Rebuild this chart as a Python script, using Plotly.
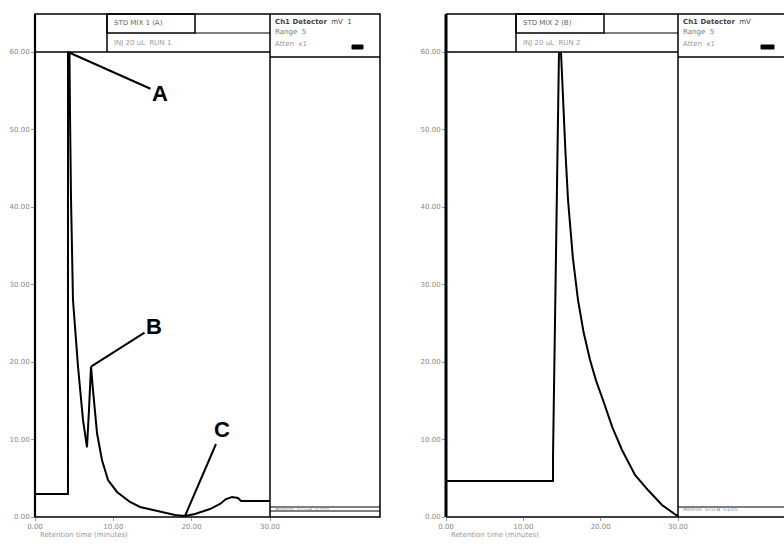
import plotly.graph_objects as go

# ---- data ----
left_time = [0, 4.21, 4.21, 4.40, 4.47, 4.60, 4.85, 5.49, 6.13, 6.64, 6.89, 7.15, 7.40, 7.92,
             8.55, 9.32, 10.47, 12.13, 13.40, 15.96, 17.87, 19.15, 20.43, 22.34, 23.62,
             24.38, 25.15, 25.91, 26.30, 30.0]
left_signal = [2.97, 2.97, 60.0, 60.0, 51.9, 40.9, 28.0, 19.4, 12.5, 9.0, 13.8, 19.4, 16.4, 10.8,
               7.35, 4.77, 3.23, 1.94, 1.29, 0.65, 0.26, 0.13, 0.39, 1.03, 1.68,
               2.32, 2.58, 2.45, 2.06, 2.06]
right_time = [0, 13.84, 13.84, 14.61, 14.87, 15.13, 15.45, 15.78, 16.40, 17.07, 17.80, 18.62,
              19.40, 20.30, 21.50, 22.76, 24.44, 26.12, 27.93, 29.74, 30.0]
right_signal = [4.65, 4.65, 8.0, 60.0, 60.0, 53.8, 47.0, 40.9, 33.5, 28.0, 23.8, 20.3,
                17.6, 15.1, 11.6, 8.65, 5.42, 3.48, 1.55, 0.26, 0.13]
x_ticks = [0, 10, 20, 30]
x_tick_labels = ["0.00", "10.00", "20.00", "30.00"]
y_ticks = [0, 10, 20, 30, 40, 50, 60]
y_tick_labels = ["0.00", "10.00", "20.00", "30.00", "40.00", "50.00", "60.00"]
peak_labels = ["A", "B", "C"]
peak_index = [2, 11, 21]

W, H = 784, 544
def px(x): return x / W
def py(y): return 1 - y / H

fig = go.Figure()
fig.add_trace(go.Scatter(x=left_time, y=left_signal, mode="lines",
                         line=dict(color="black", width=2), xaxis="x", yaxis="y", showlegend=False))
fig.add_trace(go.Scatter(x=right_time, y=right_signal, mode="lines",
                         line=dict(color="black", width=2),
                         xaxis="x2", yaxis="y2", showlegend=False))

axis_common = dict(showgrid=False, zeroline=False, showline=False, ticks="outside", ticklen=3,
                   automargin=False, tickcolor="#999",
                   tickfont=dict(size=7, color="#888", family="DejaVu Sans"))
fig.update_layout(
    width=W, height=H, margin=dict(l=0, r=0, t=0, b=0, autoexpand=False),
    paper_bgcolor="white", plot_bgcolor="white",
    xaxis=dict(domain=[px(35), px(270)], range=[0, 30], tickvals=x_ticks, ticktext=x_tick_labels,
               anchor="y", **axis_common),
    yaxis=dict(domain=[py(517), py(52)], range=[0, 60], tickvals=y_ticks, ticktext=y_tick_labels,
               anchor="x", **axis_common),
    xaxis2=dict(domain=[px(446), px(678)], range=[0, 30], tickvals=x_ticks, ticktext=x_tick_labels,
                anchor="y2", **axis_common),
    yaxis2=dict(domain=[py(517), py(52)], range=[0, 60], tickvals=y_ticks, ticktext=y_tick_labels,
                anchor="x2", **axis_common),
)

shapes = []
def line(x0, y0, x1, y1, w=1.5, c="black"):
    shapes.append(dict(type="line", xref="paper", yref="paper", x0=px(x0), y0=py(y0),
                       x1=px(x1), y1=py(y1), line=dict(color=c, width=w)))
def rect(x0, y0, x1, y1, w=1.5, fill=None):
    shapes.append(dict(type="rect", xref="paper", yref="paper", x0=px(x0), y0=py(y0),
                       x1=px(x1), y1=py(y1), line=dict(color="black", width=w),
                       fillcolor=fill if fill else "rgba(0,0,0,0)"))

# left panel frame
rect(35, 14, 380, 517)
line(35, 14, 35, 517, 2.2)
line(270, 14, 270, 517)
line(35, 52, 270, 52)
line(107, 14, 107, 52)
rect(107, 14, 195, 33)
line(195, 33, 270, 33, 1)
line(270, 57, 380, 57)
line(270, 507, 380, 507, 1)
line(270, 511, 380, 511, 1)
rect(352, 45, 363, 49, 1, "black")

# right panel frame
line(446, 14, 790, 14)
line(446, 517, 790, 517)
line(446, 14, 446, 517, 3)
line(678, 14, 678, 517)
line(446, 52, 678, 52)
line(516, 14, 516, 52)
rect(516, 14, 604, 33)
line(604, 33, 678, 33, 1)
line(678, 57, 790, 57)
line(678, 507, 790, 507, 1)
rect(761, 45, 774, 49, 1, "black")

fig.update_layout(shapes=shapes)

ann = []
def text(x, y, s, size=7, color="#666", anchor="left"):
    ann.append(dict(x=px(x), y=py(y), xref="paper", yref="paper", text=s, showarrow=False,
                    xanchor=anchor, yanchor="middle", font=dict(size=size, color=color,
                    family="DejaVu Sans")))

text(112, 23, "STD MIX 1 (A)")
text(112, 43, "INJ 20 uL  RUN 1", color="#999")
text(273, 22, "<b>Ch1 Detector</b>  mV  1", color="#444")
text(273, 32, "Range  5", color="#777")
text(273, 44, "Atten  x1", color="#999")
text(273, 509, "Method  STD-A  01/05", size=5, color="#888")
text(38, 535, "Retention time (minutes)", color="#999")

text(521, 23, "STD MIX 2 (B)")
text(521, 43, "INJ 20 uL  RUN 2", color="#999")
text(681, 22, "<b>Ch1 Detector</b>  mV", color="#444")
text(681, 32, "Range  5", color="#777")
text(681, 44, "Atten  x1", color="#999")
text(681, 509, "Method  STD-B  01/05", size=5, color="#888")
text(449, 535, "Retention time (minutes)", color="#999")

offsets = [(92, 41), (63, -40), (37, -86)]
for lab, idx, (ax, ay) in zip(peak_labels, peak_index, offsets):
    ann.append(dict(x=left_time[idx], y=left_signal[idx], xref="x", yref="y", text="<b>%s</b>" % lab,
                    showarrow=True, arrowhead=0, arrowwidth=2, arrowcolor="black", ax=ax, ay=ay,
                    standoff=0, font=dict(size=22, color="black", family="Liberation Sans")))
fig.update_layout(annotations=ann)

fig.write_html("out.html")
